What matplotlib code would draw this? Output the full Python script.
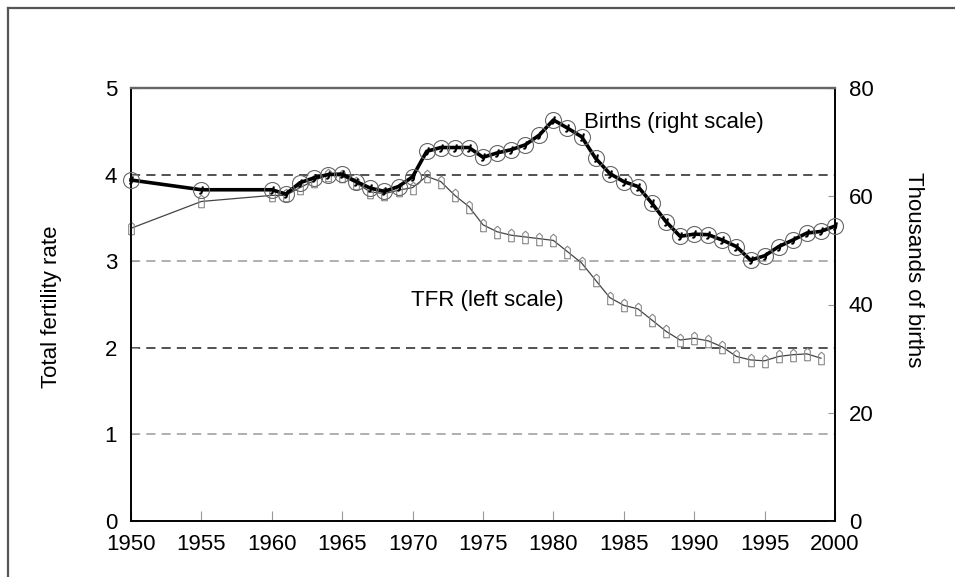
import matplotlib

matplotlib.use("Agg")
import matplotlib.pyplot as plt
from matplotlib.lines import Line2D

plt.rcParams["font.family"] = ["Liberation Sans", "DejaVu Sans"]

YEARS_BIRTHS = [1950, 1955, 1960] + list(range(1961, 2001))
BIRTHS = [
    63.0, 61.2, 61.2,
    60.4, 62.5, 63.4, 64.0, 64.1, 62.7, 61.5, 60.9, 61.8, 63.6,
    68.3, 69.0, 69.0, 69.0, 67.2, 68.0, 68.6, 69.5, 71.3, 74.1,
    72.6, 71.0, 67.0, 64.2, 62.7, 61.8, 58.7, 55.3, 52.6, 53.0,
    52.9, 51.9, 50.7, 48.2, 49.0, 50.7, 51.9, 53.2, 53.5, 54.5,
]
YEARS_TFR = [1950, 1955, 1960] + list(range(1961, 2000))
TFR = [
    3.38, 3.69, 3.76,
    3.76, 3.85, 3.93, 4.00, 3.98, 3.90, 3.80, 3.78, 3.82, 3.85,
    3.98, 3.92, 3.76, 3.63, 3.42, 3.34, 3.30, 3.28, 3.26, 3.24,
    3.11, 2.98, 2.78, 2.58, 2.49, 2.45, 2.32, 2.19, 2.09, 2.11,
    2.08, 2.01, 1.90, 1.86, 1.85, 1.90, 1.92, 1.93, 1.88,
]
X_TICKS = list(range(1950, 2001, 5))
LEFT_TICKS = [0, 1, 2, 3, 4, 5]
RIGHT_TICKS = [0, 20, 40, 60, 80]

FS = 16
TICK_GRAY = "#999999"

fig = plt.figure(figsize=(9.55, 5.77), dpi=100)
fig.patch.set_facecolor("white")

# outer frame (only left and top edges visible in the source)
fig.add_artist(Line2D([8 / 955, 8 / 955], [0, 1 - 8 / 577], color="#555555", lw=1.6))
fig.add_artist(Line2D([8 / 955, 1], [1 - 8 / 577, 1 - 8 / 577], color="#555555", lw=1.6))

ax = fig.add_axes([131 / 955, 1 - 521 / 577, (835 - 131) / 955, (521 - 88) / 577])
ax2 = ax.twinx()

ax.set_xlim(1950, 2000)
ax.set_ylim(0, 5)
ax2.set_ylim(0, 80)

for y, c in [(1, "#9a9a9a"), (2, "#222222"), (3, "#9a9a9a"), (4, "#222222")]:
    ax.axhline(y, color=c, lw=1.1, ls=(0, (6, 4)), zorder=1)

# TFR thin line with small box markers
box = [(-0.45, -1.0), (0.45, -1.0), (0.45, 0.6), (0.0, 1.0), (-0.45, 0.6), (-0.45, -1.0)]
ax.plot(YEARS_TFR, TFR, color="#444444", lw=0.9, zorder=3, clip_on=False)
ax.plot(YEARS_TFR, TFR, ls="none", marker=box, ms=9, mfc="none", mec="#888888",
        mew=0.8, zorder=3, clip_on=False)

# Births thick line with circle markers
ax2.plot(YEARS_BIRTHS, BIRTHS, color="black", lw=2.6, zorder=4, clip_on=False)
ax2.plot(YEARS_BIRTHS, BIRTHS, ls="none", marker="o", ms=11.5, mfc="none", mec="#666666",
         mew=0.8, zorder=5, clip_on=False)
ax2.plot(YEARS_BIRTHS, BIRTHS, ls="none", marker="$J$", ms=5, color="black", zorder=5,
         clip_on=False)

ax.set_xticks(X_TICKS)
ax.set_yticks(LEFT_TICKS)
ax2.set_yticks(RIGHT_TICKS)
ax.tick_params(axis="x", direction="in", length=7, color=TICK_GRAY, labelsize=FS, pad=9)
ax.tick_params(axis="y", direction="in", length=5, color=TICK_GRAY, labelsize=FS, pad=10)
ax2.tick_params(axis="y", direction="in", length=5, color=TICK_GRAY, labelsize=FS, pad=10)
ax.xaxis.get_major_ticks()[8].tick1line.set_color("black")

for a in (ax, ax2):
    for side in ("left", "bottom", "right"):
        a.spines[side].set_color("black")
        a.spines[side].set_linewidth(1.2)
    a.spines["top"].set_color("#666666")
    a.spines["top"].set_linewidth(1.6)

ax.set_ylabel("Total fertility rate", fontsize=FS)
ax.yaxis.set_label_coords(-0.098, 0.494)
ax2.set_ylabel("Thousands of births", fontsize=FS, rotation=270, va="center")
ax2.yaxis.set_label_coords(1.111, 0.58)

ax.text(1982.2, 4.6, "Births (right scale)", fontsize=FS, va="center", ha="left")
ax.text(1969.9, 2.55, "TFR (left scale)", fontsize=FS, va="center", ha="left")

fig.savefig("out.png", dpi=100)
